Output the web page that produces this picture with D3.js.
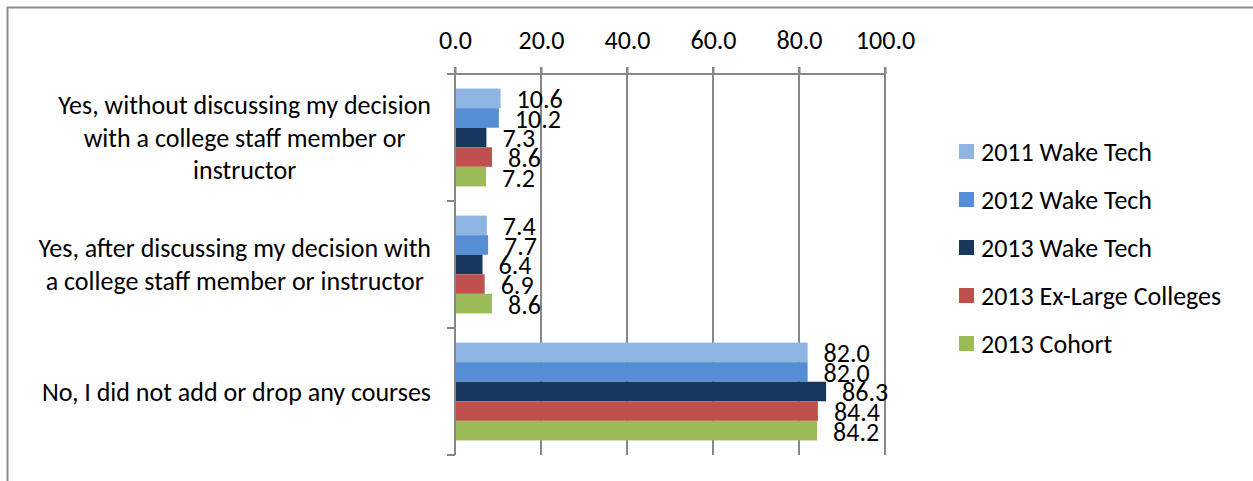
<!DOCTYPE html>
<html><head><meta charset="utf-8">
<script src="https://cdn.jsdelivr.net/npm/d3@7"></script>
<style>html,body{margin:0;padding:0;background:#fff;}svg{display:block;}</style>
</head><body>
<svg id="chart" width="1253" height="481"></svg>
<script>
const categories = [
  ["Yes, without discussing my decision", "with a college staff member or", "instructor"],
  ["Yes, after discussing my decision with", "a college staff member or instructor"],
  ["No, I did not add or drop any courses"]
];
const seriesNames = ["2011 Wake Tech", "2012 Wake Tech", "2013 Wake Tech", "2013 Ex-Large Colleges", "2013 Cohort"];
const seriesColors = ["#8EB4E3", "#558ED5", "#17375E", "#C0504D", "#9BBB59"];
const s2011 = [10.6, 7.4, 82.0];
const s2012 = [10.2, 7.7, 82.0];
const s2013 = [7.3, 6.4, 86.3];
const sExLarge = [8.6, 6.9, 84.4];
const sCohort = [7.2, 8.6, 84.2];
const tickValues = [0, 20, 40, 60, 80, 100];

(function () {
const seriesValues = [s2011, s2012, s2013, sExLarge, sCohort];
const font = "Carlito, Calibri, Lato, sans-serif";
const fs = 26;
const svg = d3.select("#chart");

// outer border
svg.append("rect").attr("x", 7.5).attr("y", 7.5).attr("width", 1260).attr("height", 490)
  .attr("fill", "none").attr("stroke", "#8c8c8c").attr("stroke-width", 2);

const pLeft = 455, pRight = 885, pTop = 74, pBottom = 455;
const x = d3.scaleLinear().domain([0, 100]).range([pLeft, pRight]);
const yGroup = d3.scaleBand().domain(d3.range(categories.length)).range([pTop, pBottom]).paddingInner(0).paddingOuter(0);
const barH = (yGroup.bandwidth() * 0.77) / seriesNames.length;
const ySeries = d3.scaleBand().domain(d3.range(seriesNames.length))
  .range([0, barH * seriesNames.length]);
const offset = (yGroup.bandwidth() - barH * seriesNames.length) / 2;

// gridlines
const gridColor = "#878787";
svg.append("g").selectAll("line").data(tickValues.slice(1)).join("line")
  .attr("x1", d => x(d)).attr("x2", d => x(d)).attr("y1", pTop - 7).attr("y2", pBottom)
  .attr("stroke", gridColor).attr("stroke-width", 2);

// bars
const groups = svg.append("g").selectAll("g").data(categories).join("g")
  .attr("transform", (d, i) => `translate(0,${yGroup(i) + offset})`);
groups.each(function(cat, ci) {
  const g = d3.select(this);
  seriesValues.forEach((vals, si) => {
    g.append("rect").attr("x", x(0) + 1).attr("y", ySeries(si))
      .attr("width", x(vals[ci]) - x(0) - 1).attr("height", ySeries.bandwidth())
      .attr("fill", seriesColors[si]);
  });
  seriesValues.forEach((vals, si) => {
    g.append("text").attr("x", x(vals[ci]) + 16).attr("y", ySeries(si) + ySeries.bandwidth() / 2 + 1)
      .attr("dominant-baseline", "central").attr("font-family", font).attr("font-size", fs)
      .attr("fill", "#000").text(vals[ci].toFixed(1));
  });
});

// top axis
const xAxis = d3.axisTop(x).tickValues(tickValues).tickFormat(d3.format(".1f")).tickSize(7).tickPadding(18);
const ax = svg.append("g").attr("transform", `translate(0,${pTop})`).call(xAxis);
ax.select(".domain").attr("stroke", gridColor).attr("stroke-width", 2).attr("d", `M${pLeft - 8},0H${pRight}`);
ax.selectAll(".tick line").attr("stroke", gridColor).attr("stroke-width", 2);
ax.selectAll(".tick text").attr("font-family", font).attr("font-size", fs).attr("fill", "#000");

// left axis
svg.append("line").attr("x1", pLeft).attr("x2", pLeft).attr("y1", pTop - 7).attr("y2", pBottom)
  .attr("stroke", gridColor).attr("stroke-width", 2);
const boundaries = d3.range(categories.length + 1).map(i => i < categories.length ? yGroup(i) : pBottom);
svg.append("g").selectAll("line").data(boundaries).join("line")
  .attr("x1", pLeft - 8).attr("x2", pLeft).attr("y1", d => d).attr("y2", d => d)
  .attr("stroke", gridColor).attr("stroke-width", 2);

// category labels
categories.forEach((lines, ci) => {
  const cy = yGroup(ci) + yGroup.bandwidth() / 2;
  const lh = 32.5;
  const t = svg.append("text").attr("font-family", font).attr("font-size", fs).attr("fill", "#000")
    .attr("text-anchor", "middle");
  const spans = lines.map((ln, li) => t.append("tspan").text(ln)
    .attr("y", cy + (li - (lines.length - 1) / 2) * lh).attr("dominant-baseline", "central"));
  const maxW = d3.max(spans, s => s.node().getComputedTextLength());
  const cx = 431 - maxW / 2;
  spans.forEach(s => s.attr("x", cx));
});

// legend
const lg = svg.append("g").selectAll("g").data(seriesNames).join("g")
  .attr("transform", (d, i) => `translate(959,${151 + i * 48})`);
lg.append("rect").attr("x", 0).attr("y", -7).attr("width", 15).attr("height", 15)
  .attr("fill", (d, i) => seriesColors[i]);
lg.append("text").attr("x", 22).attr("y", 1).attr("dominant-baseline", "central")
  .attr("font-family", font).attr("font-size", fs).attr("fill", "#000").text(d => d);
})();
</script>
</body></html>
